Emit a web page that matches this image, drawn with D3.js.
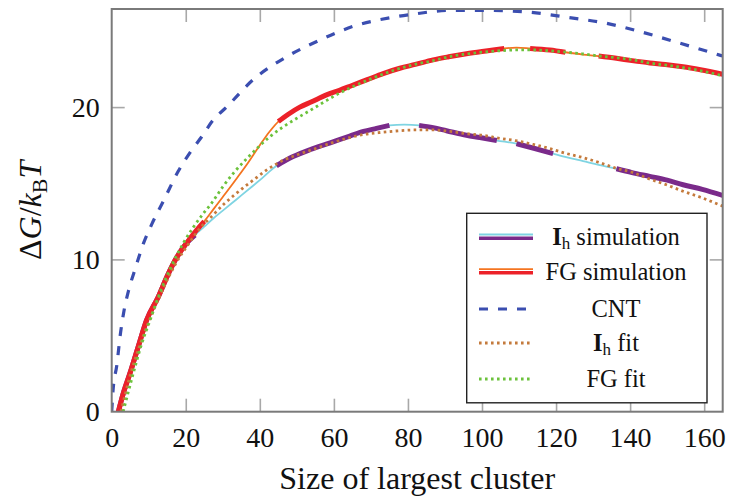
<!DOCTYPE html>
<html>
<head>
<meta charset="utf-8">
<script src="https://cdn.jsdelivr.net/npm/d3@7"></script>
<style>
  body { margin: 0; background: #fff; }
  svg { display: block; }
  svg text { font-family: "Liberation Serif", Times, "Times New Roman", "DejaVu Serif", serif; fill: #111; }
</style>
</head>
<body>
<svg id="chart" width="731" height="496"></svg>
<script>
// values
const xTicks = [0, 20, 40, 60, 80, 100, 120, 140, 160];
const yTicks = [0, 10, 20];

// CNT (dashed blue)
const cntX = [0, 0.4, 1.35, 2.4, 3.3, 4.5, 6.5, 8.5, 10.8, 13.9, 18, 21.1, 24.3, 27.4, 31, 38.2, 47.2, 56.2, 65.2, 76, 81.4, 91.3, 101.2, 112, 122.8, 133.6, 143.5, 153.4, 165];
const cntY = [0, 1.5, 3.0, 5.2, 6.6, 7.9, 9.5, 11.0, 12.3, 13.8, 15.8, 17.0, 18.05, 19.15, 20.0, 21.8, 23.3, 24.4, 25.3, 25.9, 26.1, 26.35, 26.35, 26.25, 25.9, 25.5, 24.9, 24.2, 23.35];

// FG simulation
const fgX = [1.8, 3, 4.9, 7.2, 9.4, 12.6, 15, 17.5, 20, 22.5, 25, 27.5, 30, 33.7, 36.4, 40, 42.5, 45, 47.5, 50.8, 54, 58, 61.5, 65.2, 69, 73.3, 77.8, 82, 86.8, 91, 95.8, 100, 103, 106, 109.3, 113, 118.3, 122.5, 127.3, 131.5, 136.3, 140.5, 145.3, 149.5, 154.3, 159, 165];
const fgY = [0, 1.1, 2.5, 4.3, 6.0, 7.55, 8.9, 10.1, 11.0, 11.8, 12.5, 13.3, 14.1, 15.3, 16.2, 17.5, 18.35, 19.05, 19.5, 20.0, 20.35, 20.8, 21.1, 21.45, 21.8, 22.2, 22.55, 22.8, 23.1, 23.3, 23.5, 23.65, 23.75, 23.85, 23.9, 23.85, 23.75, 23.6, 23.45, 23.35, 23.2, 23.05, 22.9, 22.8, 22.65, 22.45, 22.15];
const fgThick = [[1.8, 25], [45, 106], [113, 123], [131, 165]];

// Ih simulation
const ihX = [1.8, 3, 4.9, 7.2, 9.4, 12.6, 15, 17.5, 20, 22.5, 25, 27.5, 30, 32.5, 35, 37.5, 40, 42.5, 44.5, 49, 53.5, 59, 64.3, 68, 71.5, 75, 79, 83, 86.8, 90.4, 95.8, 99.4, 104, 109.3, 114, 119.2, 123, 127.3, 131.5, 136.3, 140.5, 145.3, 150, 154.3, 159.5, 165];
const ihY = [0, 1.1, 2.5, 4.3, 6.0, 7.55, 8.9, 10.1, 11.0, 11.6, 12.15, 12.7, 13.2, 13.7, 14.2, 14.7, 15.2, 15.75, 16.15, 16.75, 17.2, 17.65, 18.1, 18.4, 18.6, 18.8, 18.85, 18.8, 18.65, 18.45, 18.15, 18.0, 17.8, 17.6, 17.3, 16.95, 16.7, 16.45, 16.2, 15.95, 15.7, 15.45, 15.2, 14.9, 14.6, 14.2];
const ihThick = [[1.8, 22.5], [44.5, 75], [83, 104], [109.3, 119.2], [136.3, 165]];

// Ih fit (dotted brown)
const ihFitX = [2.5, 5, 7.5, 10, 13, 17, 21, 24, 26.5, 30.6, 33, 35.5, 38.2, 42, 46.3, 50.5, 55.3, 60, 64.3, 68, 73.3, 77.8, 82.3, 86.8, 91.3, 96, 100, 104.8, 109, 113.8, 118, 122.8, 127, 131.8, 136, 140.8, 145, 149.8, 154, 158.8, 165];
const ihFitY = [0, 2.4, 4.3, 5.9, 7.6, 9.6, 11.1, 12.1, 12.7, 13.7, 14.2, 14.7, 15.2, 15.9, 16.5, 16.9, 17.3, 17.7, 18.0, 18.2, 18.35, 18.45, 18.5, 18.5, 18.4, 18.25, 18.15, 17.95, 17.8, 17.55, 17.3, 16.95, 16.7, 16.35, 16.0, 15.7, 15.3, 14.9, 14.5, 14.1, 13.5];

// FG fit (dotted green)
const fgFitX = [3.1, 5.8, 7.9, 10.5, 13, 16, 19.3, 22, 24.7, 27, 30.1, 33, 36.4, 39.5, 42.7, 46, 49.9, 54.4, 57.1, 61, 65.2, 70, 76, 81, 86.8, 92, 98, 104.8, 109, 113.8, 118, 122.8, 127, 131.8, 136, 140.8, 145, 149.8, 154, 158.8, 165];
const fgFitY = [0, 2.5, 4.3, 6.1, 7.8, 9.5, 11.05, 12.1, 13.0, 13.7, 14.8, 15.7, 16.6, 17.35, 18.05, 18.65, 19.25, 19.9, 20.3, 20.85, 21.35, 21.85, 22.4, 22.75, 23.05, 23.35, 23.55, 23.7, 23.75, 23.75, 23.7, 23.6, 23.5, 23.35, 23.25, 23.1, 22.9, 22.75, 22.6, 22.4, 22.05];

const legendNames = ["simulation", "FG simulation", "CNT", "fit", "FG fit"];

// layout
const margin = { left: 111.7, top: 9, right: 8.3, bottom: 84.3 };
const W = 731, H = 496;
const iw = W - margin.left - margin.right;
const ih = H - margin.top - margin.bottom;
const serif = '"Liberation Serif", Times, "Times New Roman", "DejaVu Serif", serif';

const svg = d3.select("#chart");
const g = svg.append("g").attr("transform", `translate(${margin.left},${margin.top})`);

const x = d3.scaleLinear().domain([0, 165]).range([0, iw]);
const y = d3.scaleLinear().domain([0, 26.44]).range([ih, 0]);

svg.append("defs").append("clipPath").attr("id", "clip")
  .append("rect").attr("width", iw).attr("height", ih);

// ticks (inside, on all four sides)
const tickColor = "#a8a8a8";
const fontTick = 28;

const axBottom = g.append("g").attr("transform", `translate(0,${ih})`)
  .call(d3.axisBottom(x).tickValues(xTicks).tickSize(-13).tickPadding(15));
const axTop = g.append("g")
  .call(d3.axisTop(x).tickValues(xTicks).tickSize(-13).tickFormat(""));
const axLeft = g.append("g")
  .call(d3.axisLeft(y).tickValues(yTicks).tickSize(-13).tickPadding(12));
const axRight = g.append("g").attr("transform", `translate(${iw},0)`)
  .call(d3.axisRight(y).tickValues(yTicks).tickSize(-13).tickFormat(""));

[axBottom, axTop, axLeft, axRight].forEach(a => {
  a.attr("font-family", serif);
  a.select(".domain").remove();
  a.selectAll(".tick line").attr("stroke", tickColor).attr("stroke-width", 1.6);
  a.selectAll(".tick text")
    .attr("fill", "#111")
    .attr("font-family", serif)
    .attr("font-size", fontTick);
  // corner ticks sit on the frame
  a.selectAll(".tick").filter(d => d === 0).select("line").remove();
});

// lines
const line = d3.line().x(d => x(d[0])).y(d => y(d[1])).curve(d3.curveMonotoneX);
const pts = (xs, ys) => xs.map((v, i) => [v, ys[i]]);

const plot = g.append("g").attr("clip-path", "url(#clip)");

function drawSim(xs, ys, segs, thin, thick) {
  const all = pts(xs, ys);
  plot.append("path").attr("d", line(all))
    .attr("fill", "none").attr("stroke", thin).attr("stroke-width", 1.8);
  segs.forEach(([a, b]) => {
    const part = all.filter(p => p[0] >= a && p[0] <= b);
    plot.append("path").attr("d", line(part))
      .attr("fill", "none").attr("stroke", thick).attr("stroke-width", 5)
      .attr("stroke-linecap", "butt");
  });
}

const colors = {
  purple: "#7a2a8a", cyan: "#7fd4e2", red: "#ec2129", orange: "#f47420",
  blue: "#3b4eb0", brown: "#c47a3c", green: "#6cc23c"
};

drawSim(ihX, ihY, ihThick, colors.cyan, colors.purple);
drawSim(fgX, fgY, fgThick, colors.orange, colors.red);

plot.append("path").attr("d", line(pts(cntX, cntY)))
  .attr("fill", "none").attr("stroke", colors.blue).attr("stroke-width", 3.2)
  .attr("stroke-dasharray", "9,10");

plot.append("path").attr("d", line(pts(ihFitX, ihFitY)))
  .attr("fill", "none").attr("stroke", colors.brown).attr("stroke-width", 2.8)
  .attr("stroke-dasharray", "2.6,3.4");

plot.append("path").attr("d", line(pts(fgFitX, fgFitY)))
  .attr("fill", "none").attr("stroke", colors.green).attr("stroke-width", 2.8)
  .attr("stroke-dasharray", "2.6,3.4");

// frame
g.append("rect").attr("width", iw).attr("height", ih)
  .attr("fill", "none").attr("stroke", "#7a7a7a").attr("stroke-width", 2);

// axis labels
svg.append("text")
  .attr("x", margin.left + iw / 2).attr("y", 489)
  .attr("text-anchor", "middle")
  .attr("font-family", serif)
  .attr("font-size", 32)
  .text("Size of largest cluster");

const yl = svg.append("text")
  .attr("transform", `translate(41,${margin.top + ih / 2}) rotate(-90)`)
  .attr("text-anchor", "middle")
  .attr("font-family", serif)
  .attr("font-size", 32);
yl.append("tspan").text("Δ");
yl.append("tspan").attr("font-style", "italic").text("G");
yl.append("tspan").text("/");
yl.append("tspan").attr("font-style", "italic").text("k");
yl.append("tspan").attr("font-size", 22).attr("dy", 6).text("B");
yl.append("tspan").attr("font-style", "italic").attr("dy", -6).text("T");

// legend
const lg = svg.append("g").attr("font-family", serif);
lg.append("rect").attr("x", 466.7).attr("y", 213.3).attr("width", 240.3).attr("height", 189.5)
  .attr("fill", "#fff").attr("stroke", "#222").attr("stroke-width", 1.4);

const rowY = [237, 272, 309, 343, 379];
const sx0 = 479, sx1 = 533, tx = 616;

// Ih simulation sample
lg.append("line").attr("x1", sx0).attr("x2", sx1).attr("y1", rowY[0] - 2.5).attr("y2", rowY[0] - 2.5)
  .attr("stroke", colors.cyan).attr("stroke-width", 1.8);
lg.append("line").attr("x1", sx0).attr("x2", sx1).attr("y1", rowY[0] + 1.2).attr("y2", rowY[0] + 1.2)
  .attr("stroke", colors.purple).attr("stroke-width", 3.4);
// FG simulation sample
lg.append("line").attr("x1", sx0).attr("x2", sx1).attr("y1", rowY[1] - 2.8).attr("y2", rowY[1] - 2.8)
  .attr("stroke", colors.orange).attr("stroke-width", 1.8);
lg.append("line").attr("x1", sx0).attr("x2", sx1).attr("y1", rowY[1] + 0.8).attr("y2", rowY[1] + 0.8)
  .attr("stroke", colors.red).attr("stroke-width", 3.6);
// CNT
lg.append("line").attr("x1", sx0).attr("x2", sx1).attr("y1", rowY[2]).attr("y2", rowY[2])
  .attr("stroke", colors.blue).attr("stroke-width", 3.2).attr("stroke-dasharray", "9,10");
// fits
lg.append("line").attr("x1", sx0).attr("x2", sx1).attr("y1", rowY[3]).attr("y2", rowY[3])
  .attr("stroke", colors.brown).attr("stroke-width", 2.8).attr("stroke-dasharray", "2.6,3.4");
lg.append("line").attr("x1", sx0).attr("x2", sx1).attr("y1", rowY[4]).attr("y2", rowY[4])
  .attr("stroke", colors.green).attr("stroke-width", 2.8).attr("stroke-dasharray", "2.6,3.4");

const legFont = 24.5;
const baseOff = 7.5;
function ihLabel(rowIdx, rest) {
  const t = lg.append("text").attr("x", tx).attr("y", rowY[rowIdx] + baseOff)
    .attr("text-anchor", "middle").attr("font-size", legFont);
  t.append("tspan").attr("font-weight", "bold").text("I");
  t.append("tspan").attr("font-size", 17).attr("dy", 4).text("h");
  t.append("tspan").attr("dy", -4).text(" " + rest);
}
ihLabel(0, legendNames[0]);
[1, 2, 4].forEach(i => {
  lg.append("text").attr("x", tx).attr("y", rowY[i] + baseOff)
    .attr("text-anchor", "middle").attr("font-size", legFont).text(legendNames[i]);
});
ihLabel(3, legendNames[3]);
</script>
</body>
</html>
